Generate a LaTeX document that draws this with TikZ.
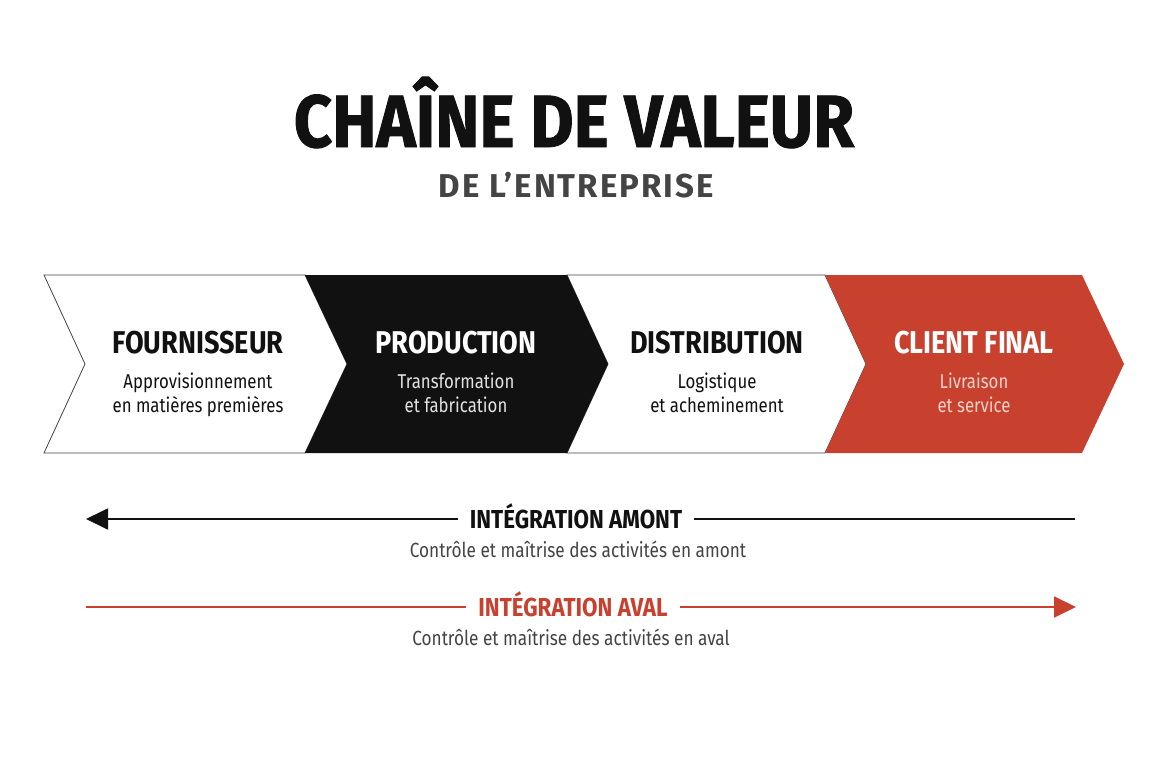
\documentclass[tikz,border=0pt]{standalone}
\usepackage{fontspec}
\setmainfont{Fira Sans}[FakeStretch=0.84]
\newfontfamily\headfont{Fira Sans}[FakeStretch=0.86]
\newfontfamily\bigfont{Fira Sans}[FakeStretch=0.9,FakeBold=1.2]
\newfontfamily\subfont{Fira Sans}[FakeStretch=1.0,LetterSpace=6]
\usetikzlibrary{arrows.meta}
\definecolor{cred}{HTML}{C8402E}
\definecolor{cblack}{HTML}{111111}
\definecolor{cgray}{HTML}{444444}
\definecolor{cpink}{HTML}{F6D2CA}
\definecolor{cltgray}{HTML}{E2E2E2}
\begin{document}
\begin{tikzpicture}[x=1pt,y=-1pt,
  chev/.style={line width=0.8pt,draw=cgray,line join=miter},
  ctitle/.style={anchor=base,font=\headfont\bfseries\fontsize{31.5}{34}\selectfont},
  csub/.style={anchor=base,font=\fontsize{20}{24}\selectfont,align=center},
  ititle/.style={anchor=base,font=\headfont\bfseries\fontsize{26}{30}\selectfont,fill=white,inner xsep=12pt,inner ysep=2pt},
  isub/.style={anchor=base,font=\fontsize{20.5}{24}\selectfont,text=cgray},
  arr/.style={line width=1.8pt,-{Triangle[length=22pt,width=21pt]}}
]
\useasboundingbox (0,0) rectangle (1152,768);
\fill[white] (0,0) rectangle (1152,768);

% title
\node[anchor=base,font=\bigfont\bfseries\fontsize{74}{80}\selectfont,text=cblack] (title) at (574,147) {CHAÎNE DE VALEUR};
\node[anchor=base,font=\subfont\bfseries\fontsize{33}{36}\selectfont,text=cgray] (subtitle) at (576,197) {DE L’ENTREPRISE};

% chevrons
\draw[chev,fill=white] (44,275) -- (305,275) -- (347,364) -- (305,453) -- (44,453) -- (85,364) -- cycle;
\draw[chev,fill=white] (567,275) -- (825,275) -- (866,364) -- (825,453) -- (567,453) -- (608,364) -- cycle;
\fill[cblack] (305,275) -- (567,275) -- (608,364) -- (567,453) -- (305,453) -- (347,364) -- cycle;
\fill[cred] (825,275) -- (1082,275) -- (1124,364) -- (1082,453) -- (825,453) -- (866,364) -- cycle;

\node[ctitle,text=cblack] (t1) at (198,353) {FOURNISSEUR};
\node[csub,text=cblack] (s1a) at (198,388) {Approvisionnement};
\node[csub,text=cblack] (s1b) at (198,412) {en matières premières};

\node[ctitle,text=white] (t2) at (456,353) {PRODUCTION};
\node[csub,text=cltgray] (s2a) at (456,388) {Transformation};
\node[csub,text=cltgray] (s2b) at (456,412) {et fabrication};

\node[ctitle,text=cblack] (t3) at (717,353) {DISTRIBUTION};
\node[csub,text=cblack] (s3a) at (717,388) {Logistique};
\node[csub,text=cblack] (s3b) at (717,412) {et acheminement};

\node[ctitle,text=white] (t4) at (974,353) {CLIENT FINAL};
\node[csub,text=cpink] (s4a) at (974,388) {Livraison};
\node[csub,text=cpink] (s4b) at (974,412) {et service};

% integration arrows
\coordinate (am0) at (1075,519);
\coordinate (am1) at (86,519);
\draw[arr,cblack] (am0) -- (am1);
\node[ititle,text=cblack] (amont) at (576,528) {INTÉGRATION AMONT};
\node[isub] (amontsub) at (578,557) {Contrôle et maîtrise des activités en amont};

\coordinate (av0) at (86,607);
\coordinate (av1) at (1076,607);
\draw[arr,cred] (av0) -- (av1);
\node[ititle,text=cred] (aval) at (573,616) {INTÉGRATION AVAL};
\node[isub] (avalsub) at (571,645) {Contrôle et maîtrise des activités en aval};
\end{tikzpicture}
\end{document}
